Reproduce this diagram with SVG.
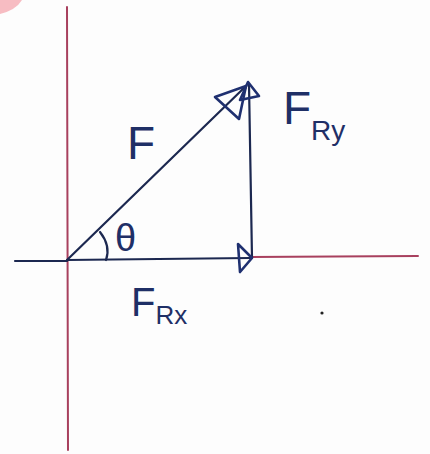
<svg xmlns="http://www.w3.org/2000/svg" width="430" height="454" viewBox="0 0 430 454">
<style>
.axis{stroke:#a8405e;stroke-width:2;fill:none;stroke-linecap:round}
.vec{stroke:#1c2850;stroke-width:2.2;fill:none;stroke-linecap:round;stroke-linejoin:round}
.head{stroke:#1f3070;stroke-width:2.6;fill:none;stroke-linejoin:round}
.lbl{font-family:"Liberation Sans","DejaVu Sans",sans-serif;fill:#1f2f66}
</style>
<rect width="430" height="454" fill="#fdfdfd"/>
<path d="M0,0 L22,0 Q16,10 0,14 Z" fill="#f3a0a8" opacity="0.7"/>
<g id="axes">
<line class="axis" x1="67" y1="7" x2="68" y2="450"/>
<line class="axis" x1="250" y1="257" x2="418" y2="256"/>
<line class="vec" x1="15" y1="261" x2="67" y2="261"/>
</g>
<g id="connectors">
<line class="vec" x1="67" y1="260" x2="250" y2="258"/>
<line class="vec" x1="67" y1="260" x2="246" y2="86"/>
<line class="vec" x1="252" y1="258" x2="249" y2="84"/>
<path class="head" d="M215,97 L246,86 L239,119 Z"/>
<path class="head" d="M248,82 L259,96 L240,100 Z"/>
<path class="head" d="M238,244 L252,258 L240,272 Z"/>
<path class="vec" d="M100,232 Q111,246 106,260"/>
</g>
<g id="label-F"><text class="lbl" x="127" y="159" font-size="46">F</text></g>
<g id="label-FRy"><text class="lbl" x="283" y="124" font-size="46">F<tspan font-size="28" dy="16">Ry</tspan></text></g>
<g id="label-theta"><text class="lbl" x="115" y="251" font-size="38">θ</text></g>
<g id="label-FRx"><text class="lbl" x="131" y="316" font-size="40">F<tspan font-size="26" dy="8">Rx</tspan></text></g>
<circle cx="322" cy="313" r="1.6" fill="#222"/>
</svg>
